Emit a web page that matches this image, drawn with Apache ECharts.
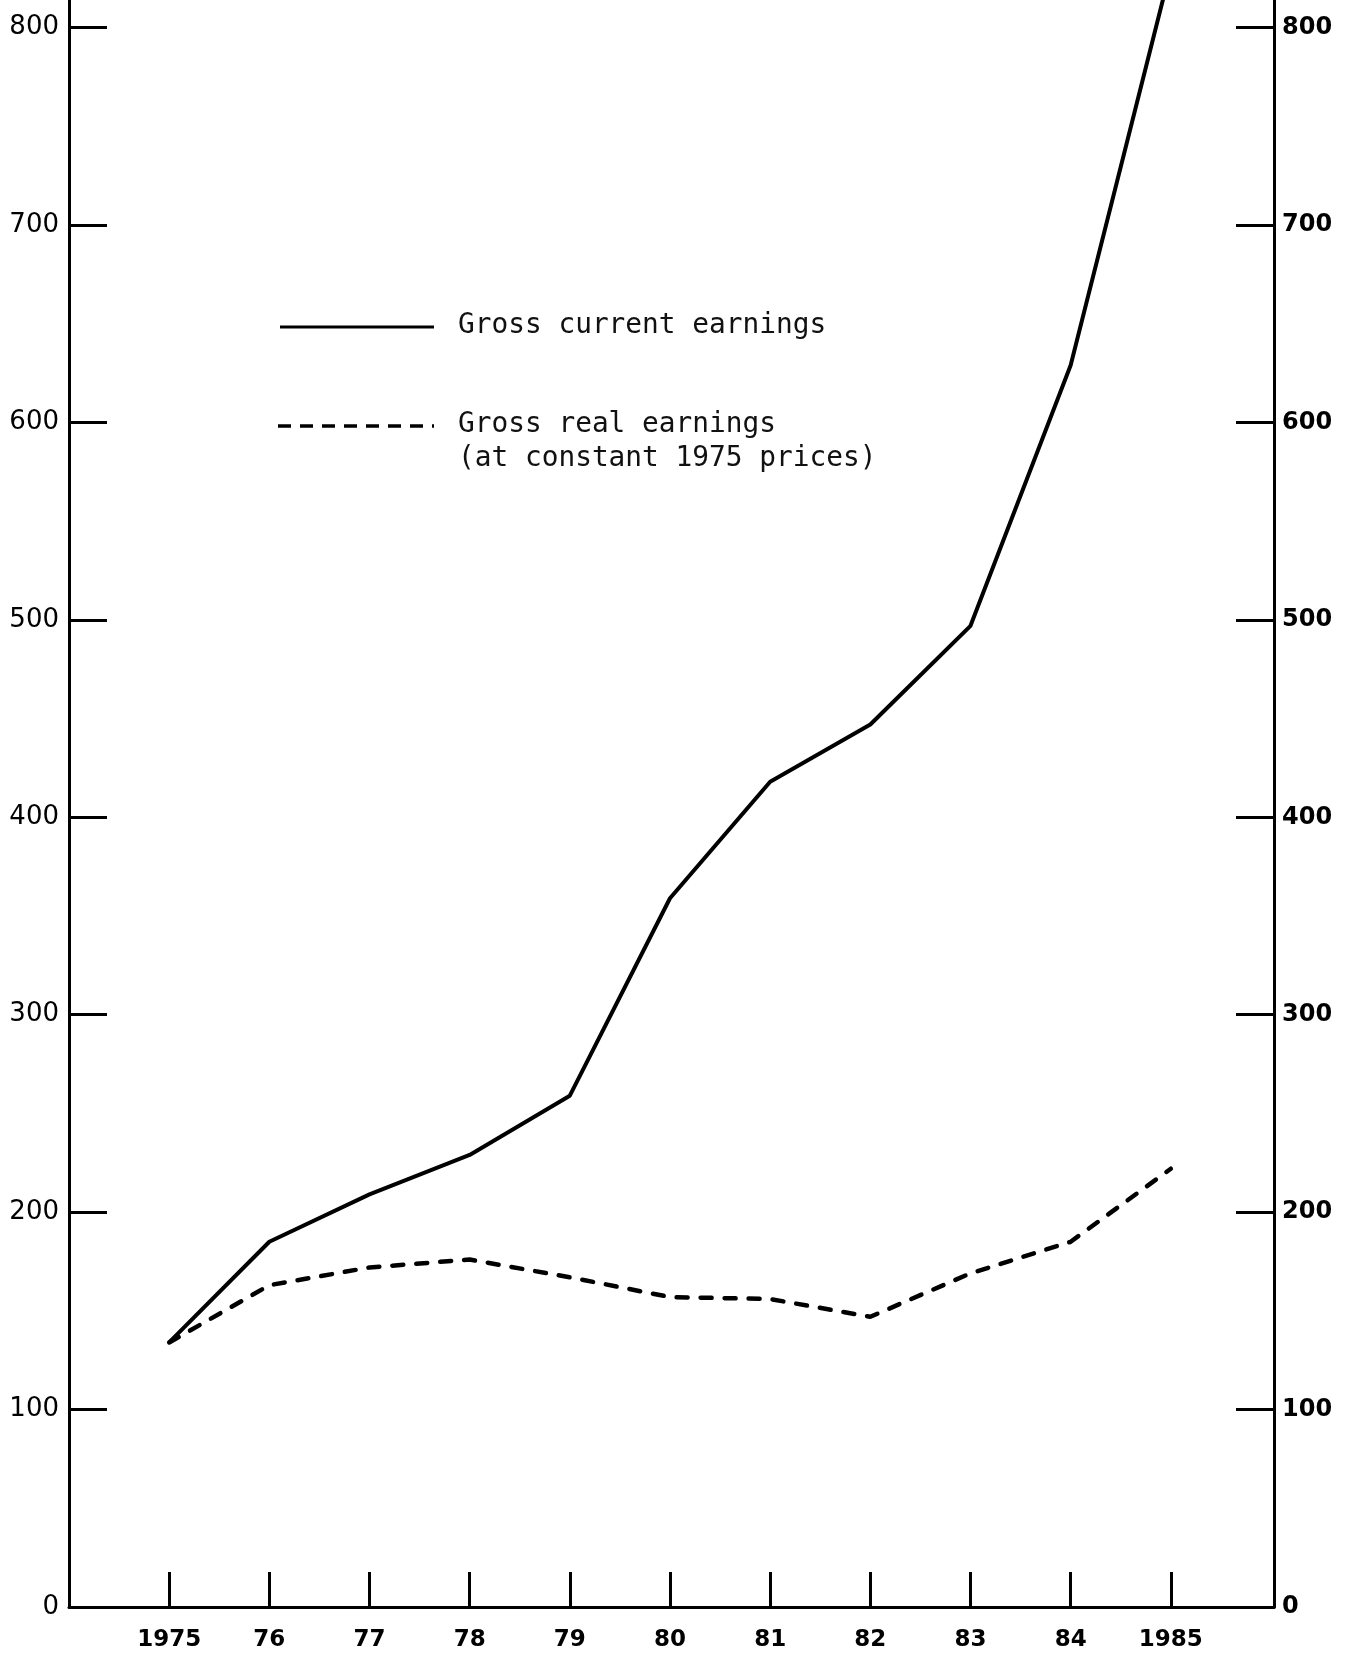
<!DOCTYPE html>
<html>
<head>
<meta charset="utf-8">
<script src="https://cdn.jsdelivr.net/npm/echarts@6/dist/echarts.min.js"></script>
<style>
html,body{margin:0;padding:0;background:#fff;}
#chart{width:1350px;height:1662px;}
</style>
</head>
<body>
<div id="chart"></div>
<script>
const years = [1975, 1976, 1977, 1978, 1979, 1980, 1981, 1982, 1983, 1984, 1985];
const yearLabels = ['1975', '76', '77', '78', '79', '80', '81', '82', '83', '84', '1985'];
const currentEarnings = [134, 185, 209, 229, 259, 359, 418, 447, 497, 629, 830];
const realEarnings = [134, 163, 172, 176, 167, 157, 156, 147, 169, 185, 222];
const yTicks = [0, 100, 200, 300, 400, 500, 600, 700, 800];
const legendCurrent = 'Gross current earnings';
const legendReal = ['Gross real earnings', '(at constant 1975 prices)'];

const chart = echarts.init(document.getElementById('chart'), null, {renderer: 'canvas'});

const axisLine = {show: true, onZero: false, lineStyle: {color: '#000', width: 3}};
const labelMap = {};
years.forEach((y, i) => { labelMap[y] = yearLabels[i]; });

const monoFont = '27.8px "DejaVu Sans Mono", monospace';

const option = {
  backgroundColor: '#fff',
  animation: false,
  grid: {left: 69, right: 76, top: 0, bottom: 55, containLabel: false, outerBoundsMode: 'none'},
  xAxis: {
    type: 'value',
    min: 1974,
    max: 1986.03,
    axisLine: axisLine,
    splitLine: {show: false},
    axisTick: {show: true, inside: true, length: 35, lineStyle: {color: '#000', width: 3}, customValues: years},
    axisLabel: {
      customValues: years,
      formatter: v => labelMap[v] || '',
      color: '#000', fontFamily: 'DejaVu Sans', fontWeight: 'bold', fontSize: 23, margin: 22
    }
  },
  yAxis: [
    {
      type: 'value', position: 'left', min: 0, max: 814, interval: 100,
      axisLine: axisLine,
      splitLine: {show: false},
      axisTick: {show: true, inside: true, length: 38, lineStyle: {color: '#000', width: 3}, customValues: yTicks},
      axisLabel: {customValues: yTicks, color: '#000', fontFamily: 'DejaVu Sans', fontSize: 26, margin: 10}
    },
    {
      type: 'value', position: 'right', min: 0, max: 814, interval: 100,
      axisLine: axisLine,
      splitLine: {show: false},
      axisTick: {show: true, inside: true, length: 38, lineStyle: {color: '#000', width: 3}, customValues: yTicks},
      axisLabel: {customValues: yTicks, color: '#000', fontFamily: 'DejaVu Sans', fontWeight: 'bold', fontSize: 24, margin: 8}
    }
  ],
  series: [
    {
      name: legendCurrent,
      type: 'line',
      yAxisIndex: 0,
      symbol: 'none',
      clip: true,
      data: years.map((y, i) => [y, currentEarnings[i]]),
      lineStyle: {color: '#000', width: 4}
    },
    {
      name: legendReal.join(' '),
      type: 'line',
      yAxisIndex: 0,
      symbol: 'none',
      clip: true,
      data: years.map((y, i) => [y, realEarnings[i]]),
      lineStyle: {color: '#000', width: 4.5, type: [11, 13], cap: 'round'}
    }
  ],
  graphic: [
    {type: 'line', shape: {x1: 280, y1: 327, x2: 434, y2: 327}, style: {stroke: '#000', lineWidth: 3}},
    {type: 'text', x: 458, y: 326, style: {text: legendCurrent, font: monoFont, fill: '#111', verticalAlign: 'middle', align: 'left'}},
    {type: 'line', shape: {x1: 278, y1: 426, x2: 434, y2: 426}, style: {stroke: '#000', lineWidth: 3.5, lineDash: [13, 9]}},
    {type: 'text', x: 458, y: 425, style: {text: legendReal[0], font: monoFont, fill: '#111', verticalAlign: 'middle', align: 'left'}},
    {type: 'text', x: 458, y: 459, style: {text: legendReal[1], font: monoFont, fill: '#111', verticalAlign: 'middle', align: 'left'}}
  ]
};

chart.setOption(option);
</script>
</body>
</html>
